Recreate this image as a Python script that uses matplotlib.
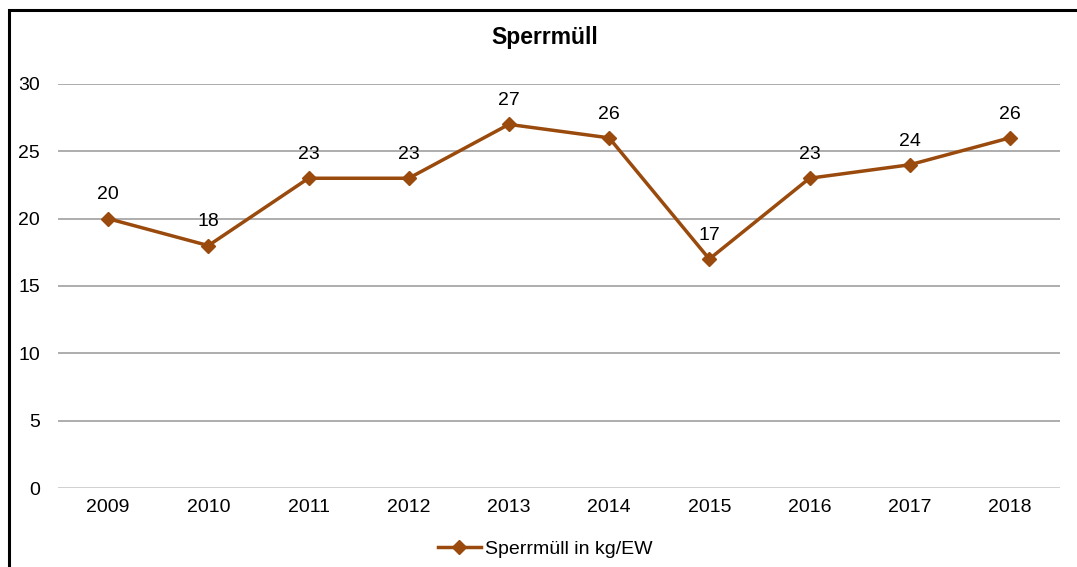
import matplotlib.pyplot as plt
from matplotlib.lines import Line2D
from matplotlib.patches import Rectangle

years = ["2009", "2010", "2011", "2012", "2013", "2014", "2015", "2016", "2017", "2018"]
values = [20, 18, 23, 23, 27, 26, 17, 23, 24, 26]
y_ticks = [0, 5, 10, 15, 20, 25, 30]

line_color = "#994A0C"

plt.rcParams["font.family"] = ["Liberation Sans", "DejaVu Sans"]

fig = plt.figure(figsize=(10.77, 5.67), dpi=100)
ax = fig.add_axes([0.0539, 0.1393, 0.9303, 0.7126])

x = list(range(len(years)))
ax.plot(x, values, color=line_color, linewidth=2.5, marker="D", markersize=7,
        label="Sperrmüll in kg/EW", zorder=3)
for xi, v in zip(x, values):
    ax.annotate(str(v), (xi, v), xytext=(0, 11), textcoords="offset points",
                ha="center", va="bottom", fontsize=14)

ax.set_xlim(-0.5, len(years) - 0.5)
ax.set_ylim(0, 30)
ax.set_yticks(y_ticks)
ax.set_xticks(x)
ax.set_xticklabels(years)
ax.tick_params(axis="both", length=0, labelsize=14)
ax.tick_params(axis="x", pad=8)
ax.tick_params(axis="y", pad=13)
ax.grid(axis="y", color="#A0A0A0", linewidth=1.2)
ax.set_axisbelow(True)
for s in ax.spines.values():
    s.set_visible(False)
ax.axhline(0, color="#D9D9D9", linewidth=1.2, zorder=1)

fig.text(0.506, 0.933, "Sperrmüll", ha="center", va="center",
         fontsize=16.5, fontweight="bold")

fig.legend(handles=[Line2D([0], [0], color=line_color, linewidth=2.5, marker="D",
                           markersize=7, label="Sperrmüll in kg/EW")],
           loc="center", bbox_to_anchor=(0.506, 0.032), frameon=False,
           fontsize=14, handlelength=2.2, handletextpad=0.2)

# outer chart frame (extends past right and bottom edges)
fig.patches.append(Rectangle((9 / 1077, -0.05), 1.2, 1 - 9.5 / 567 + 0.05,
                             transform=fig.transFigure, fill=False,
                             edgecolor="black", linewidth=2.2))

fig.savefig("out.png", dpi=100)
